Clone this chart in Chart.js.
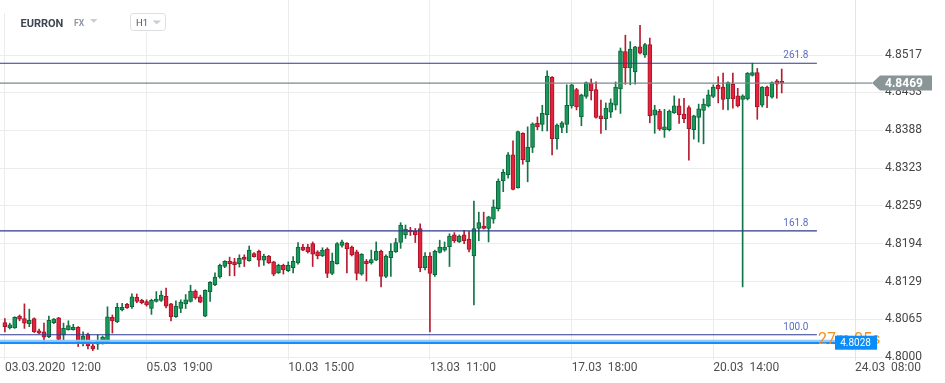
<!DOCTYPE html>
<html><head><meta charset="utf-8">
<script src="https://cdn.jsdelivr.net/npm/chart.js@4.4.1/dist/chart.umd.min.js"></script>
<style>html,body{margin:0;padding:0;background:#fff;overflow:hidden}#wrap{width:945px;height:383px;position:relative}</style>
</head><body><div id="wrap"><canvas id="c" width="945" height="383"></canvas></div>
<script>
const opens=[4.8059,4.8050,4.8050,4.8070,4.8066,4.8057,4.8066,4.8045,4.8043,4.8035,4.8059,4.8067,4.8038,4.8047,4.8047,4.8051,4.8025,4.8039,4.8019,4.8022,4.8024,4.8025,4.8068,4.8060,4.8081,4.8090,4.8086,4.8102,4.8097,4.8095,4.8083,4.8095,4.8097,4.8104,4.8091,4.8069,4.8083,4.8091,4.8095,4.8113,4.8103,4.8070,4.8112,4.8124,4.8137,4.8155,4.8164,4.8163,4.8160,4.8171,4.8165,4.8177,4.8181,4.8166,4.8173,4.8163,4.8144,4.8157,4.8148,4.8153,4.8161,4.8188,4.8188,4.8194,4.8180,4.8173,4.8185,4.8143,4.8160,4.8191,4.8195,4.8188,4.8180,4.8142,4.8164,4.8161,4.8166,4.8181,4.8138,4.8170,4.8180,4.8196,4.8209,4.8217,4.8215,4.8220,4.8153,4.8173,4.8141,4.8179,4.8183,4.8189,4.8209,4.8197,4.8209,4.8202,4.8173,4.8220,4.8224,4.8220,4.8236,4.8254,4.8302,4.8312,4.8346,4.8290,4.8383,4.8334,4.8359,4.8400,4.8398,4.8415,4.8479,4.8374,4.8393,4.8398,4.8430,4.8458,4.8411,4.8446,4.8469,4.8458,4.8413,4.8408,4.8419,4.8431,4.8459,4.8523,4.8495,4.8488,4.8531,4.8517,4.8535,4.8414,4.8421,4.8389,4.8389,4.8418,4.8430,4.8416,4.8427,4.8389,4.8410,4.8422,4.8430,4.8446,4.8465,4.8462,4.8442,4.8467,4.8447,4.8441,4.8442,4.8482,4.8487,4.8431,4.8462,4.8445,4.8473,4.8472];
const highs=[4.8066,4.8058,4.8069,4.8072,4.8091,4.8082,4.8067,4.8048,4.8058,4.8070,4.8066,4.8068,4.8058,4.8062,4.8056,4.8052,4.8043,4.8041,4.8025,4.8038,4.8036,4.8086,4.8072,4.8092,4.8092,4.8092,4.8108,4.8108,4.8099,4.8098,4.8099,4.8112,4.8113,4.8118,4.8092,4.8096,4.8098,4.8107,4.8123,4.8115,4.8106,4.8115,4.8129,4.8144,4.8159,4.8165,4.8171,4.8169,4.8175,4.8175,4.8190,4.8179,4.8183,4.8176,4.8174,4.8164,4.8159,4.8159,4.8163,4.8172,4.8196,4.8193,4.8193,4.8197,4.8182,4.8187,4.8187,4.8178,4.8196,4.8200,4.8196,4.8190,4.8183,4.8177,4.8167,4.8183,4.8197,4.8183,4.8175,4.8194,4.8203,4.8230,4.8226,4.8222,4.8220,4.8228,4.8179,4.8179,4.8183,4.8200,4.8197,4.8211,4.8213,4.8209,4.8217,4.8215,4.8267,4.8248,4.8248,4.8241,4.8269,4.8305,4.8321,4.8350,4.8370,4.8387,4.8384,4.8394,4.8401,4.8411,4.8431,4.8490,4.8480,4.8399,4.8403,4.8466,4.8467,4.8460,4.8450,4.8471,4.8476,4.8471,4.8440,4.8435,4.8442,4.8471,4.8529,4.8551,4.8540,4.8532,4.8568,4.8537,4.8546,4.8431,4.8424,4.8424,4.8423,4.8447,4.8442,4.8443,4.8430,4.8414,4.8433,4.8442,4.8457,4.8466,4.8480,4.8486,4.8471,4.8486,4.8460,4.8449,4.8487,4.8503,4.8494,4.8463,4.8464,4.8471,4.8475,4.8493];
const lows=[4.8043,4.8048,4.8049,4.8062,4.8049,4.8052,4.8042,4.8040,4.8026,4.8033,4.8057,4.8029,4.8029,4.8046,4.8046,4.8018,4.8019,4.8014,4.8011,4.8013,4.8022,4.8024,4.8041,4.8059,4.8079,4.8083,4.8083,4.8093,4.8091,4.8087,4.8073,4.8094,4.8095,4.8084,4.8062,4.8068,4.8076,4.8083,4.8094,4.8099,4.8093,4.8069,4.8095,4.8122,4.8135,4.8153,4.8139,4.8139,4.8154,4.8155,4.8164,4.8171,4.8155,4.8157,4.8160,4.8139,4.8143,4.8142,4.8146,4.8144,4.8159,4.8182,4.8178,4.8155,4.8168,4.8172,4.8136,4.8141,4.8159,4.8188,4.8144,4.8173,4.8132,4.8140,4.8130,4.8159,4.8165,4.8120,4.8136,4.8138,4.8179,4.8186,4.8203,4.8208,4.8196,4.8146,4.8149,4.8043,4.8138,4.8178,4.8181,4.8155,4.8196,4.8196,4.8194,4.8180,4.8089,4.8199,4.8219,4.8197,4.8229,4.8250,4.8283,4.8306,4.8286,4.8289,4.8330,4.8300,4.8350,4.8389,4.8387,4.8387,4.8346,4.8356,4.8384,4.8384,4.8426,4.8423,4.8396,4.8443,4.8440,4.8409,4.8383,4.8389,4.8410,4.8423,4.8417,4.8467,4.8466,4.8467,4.8519,4.8513,4.8401,4.8383,4.8388,4.8376,4.8387,4.8417,4.8400,4.8401,4.8337,4.8373,4.8368,4.8365,4.8428,4.8444,4.8435,4.8424,4.8423,4.8426,4.8428,4.8120,4.8440,4.8481,4.8407,4.8428,4.8427,4.8443,4.8443,4.8452];
const closes=[4.8052,4.8055,4.8068,4.8065,4.8058,4.8063,4.8043,4.8041,4.8034,4.8063,4.8065,4.8030,4.8049,4.8054,4.8051,4.8026,4.8036,4.8019,4.8014,4.8027,4.8034,4.8069,4.8062,4.8085,4.8085,4.8084,4.8103,4.8095,4.8093,4.8089,4.8097,4.8099,4.8106,4.8087,4.8069,4.8087,4.8094,4.8098,4.8113,4.8101,4.8094,4.8114,4.8128,4.8137,4.8157,4.8164,4.8160,4.8158,4.8169,4.8167,4.8183,4.8172,4.8166,4.8173,4.8161,4.8142,4.8157,4.8149,4.8157,4.8164,4.8188,4.8183,4.8180,4.8176,4.8173,4.8183,4.8143,4.8164,4.8194,4.8197,4.8185,4.8175,4.8143,4.8176,4.8160,4.8167,4.8181,4.8138,4.8173,4.8181,4.8196,4.8226,4.8219,4.8214,4.8209,4.8153,4.8173,4.8143,4.8181,4.8188,4.8188,4.8207,4.8199,4.8207,4.8199,4.8184,4.8220,4.8230,4.8220,4.8240,4.8257,4.8301,4.8316,4.8346,4.8287,4.8386,4.8338,4.8359,4.8399,4.8394,4.8417,4.8481,4.8374,4.8397,4.8401,4.8431,4.8466,4.8428,4.8449,4.8470,4.8456,4.8410,4.8408,4.8426,4.8435,4.8462,4.8524,4.8495,4.8527,4.8531,4.8520,4.8535,4.8413,4.8423,4.8390,4.8394,4.8421,4.8430,4.8415,4.8408,4.8391,4.8413,4.8425,4.8433,4.8449,4.8462,4.8459,4.8441,4.8470,4.8442,4.8430,4.8447,4.8486,4.8487,4.8428,4.8462,4.8447,4.8470,4.8467,4.8469];

const xTickIdx=[0,29,58,87,116,145,174];
const xTickLabels=['03.03.2020  12:00','05.03  19:00','10.03  15:00','13.03  11:00','17.03  18:00','20.03  14:00','24.03  08:00'];
const yTickLabels=['4.8000','4.8065','4.8129','4.8194','4.8259','4.8323','4.8388','4.8453','4.8517'];
const fibNames=['261.8','161.8','100.0'];
const fibPrices=[4.8503,4.8216,4.8038];
const lastPrice=4.8469;
const bidLine=4.80245;
const askLine=4.8028;
const bidLabel='4.8028';
const timerText='27m 05s';

const X_MIN=-1, X_MAX=174, FIB_END=166.2;
const UP='#16995a', UP_EDGE='#0d6639', DN='#e2233b', DN_EDGE='#a5152a';

const isUp=opens.map((o,i)=>closes[i]>=o);
const wickData=opens.map((o,i)=>({x:i,y:[lows[i],highs[i]]}));
const bodyData=opens.map((o,i)=>({x:i,y:[Math.min(o,closes[i]),Math.max(o,closes[i])]}));
const hline=(p,x1)=>[{x:X_MIN,y:p},{x:x1,y:p}];

Chart.defaults.font.family='Roboto';

const overlay={
  id:'overlay',
  afterDraw(chart){
    const {ctx,chartArea:ca,scales:{x,y}}=chart;
    ctx.save();
    // header
    ctx.fillStyle='#fff';
    ctx.fillRect(0,0,185,13);
    ctx.fillRect(10,0,175,32);
    ctx.textBaseline='alphabetic';ctx.textAlign='left';
    ctx.fillStyle='#3d4752';ctx.font='bold 11px Roboto';ctx.fillText('EURRON',20.5,26.5);
    ctx.fillStyle='#8c97a1';ctx.font='bold 8.5px Roboto';ctx.fillText('FX',74,25.7);
    ctx.fillStyle='#c8cdd2';
    ctx.beginPath();ctx.moveTo(90,19);ctx.lineTo(97.5,19);ctx.lineTo(93.75,22.7);ctx.closePath();ctx.fill();
    ctx.strokeStyle='#dcdfe2';ctx.lineWidth=1;
    ctx.beginPath();ctx.roundRect(130.5,13.5,35,17,3);ctx.stroke();
    ctx.fillStyle='#555';ctx.font='9.5px Roboto';ctx.fillText('H1',136,25.7);
    ctx.fillStyle='#c8cdd2';
    ctx.beginPath();ctx.moveTo(152.5,20.5);ctx.lineTo(161,20.5);ctx.lineTo(156.75,24.2);ctx.closePath();ctx.fill();
    // fib labels
    ctx.font='10px Roboto';ctx.fillStyle='#5c6bc0';ctx.textAlign='right';
    const fx=x.getPixelForValue(FIB_END);
    fibPrices.forEach((p,i)=>ctx.fillText(fibNames[i],fx-8.5,y.getPixelForValue(p)-5));
    // last price label
    const py=y.getPixelForValue(lastPrice);
    ctx.strokeStyle='#7f898d';ctx.lineWidth=1.2;
    ctx.beginPath();ctx.moveTo(ca.right,py);ctx.lineTo(ca.right+17,py);ctx.stroke();
    ctx.fillStyle='#8a9598';
    ctx.beginPath();ctx.moveTo(ca.right+17,py);ctx.lineTo(ca.right+25,py-7.5);ctx.lineTo(ca.right+77,py-7.5);
    ctx.lineTo(ca.right+77,py+7.5);ctx.lineTo(ca.right+25,py+7.5);ctx.closePath();ctx.fill();
    ctx.fillStyle='#fff';ctx.font='bold 12px Roboto';ctx.textAlign='left';ctx.textBaseline='middle';
    ctx.fillText(lastPrice.toFixed(4),ca.right+30,py+0.5);
    // timer + bid label
    const by=y.getPixelForValue(bidLine);
    ctx.textBaseline='alphabetic';ctx.font='16px Roboto';ctx.fillStyle='#f5901a';
    ctx.fillText(timerText,ca.right-37,by+1.5);
    ctx.fillStyle='#0b8cf8';
    ctx.fillRect(ca.right-20,by-7,42,14);
    ctx.fillStyle='#fff';ctx.font='10px Roboto';ctx.textAlign='center';ctx.textBaseline='middle';
    ctx.fillText(bidLabel,ca.right+0.5,by+0.5);
    ctx.restore();
  }
};

new Chart(document.getElementById('c'),{
  type:'bar',
  data:{datasets:[
    {type:'line',data:hline(askLine,X_MAX),borderColor:'#90c8fb',borderWidth:2,pointRadius:0,order:0},
    {type:'line',data:hline(bidLine,X_MAX),borderColor:'#1a8cf7',borderWidth:2.5,pointRadius:0,order:0},
    {type:'line',data:hline(lastPrice,X_MAX),borderColor:'#7f898d',borderWidth:1.2,pointRadius:0,order:1},
    ...fibPrices.map(p=>({type:'line',data:hline(p,FIB_END),borderColor:'#2c3a8c',borderWidth:1.1,pointRadius:0,order:1})),
    {type:'bar',data:bodyData,backgroundColor:isUp.map(u=>u?UP:DN),borderColor:isUp.map(u=>u?UP_EDGE:DN_EDGE),
      borderWidth:1,borderSkipped:false,barThickness:4,grouped:false,order:2},
    {type:'bar',data:wickData,backgroundColor:isUp.map(u=>u?'#137446':'#b51d30'),borderWidth:0,
      barThickness:1,grouped:false,order:3}
  ]},
  options:{
    responsive:false,animation:false,devicePixelRatio:1,events:[],
    layout:{padding:0},
    plugins:{legend:{display:false},tooltip:{enabled:false}},
    scales:{
      x:{type:'linear',min:X_MIN,max:X_MAX,offset:false,
        grid:{offset:false,color:'#ececec',drawTicks:false},
        border:{display:false},
        afterBuildTicks:s=>{s.ticks=xTickIdx.map(v=>({value:v}));},
        afterFit:s=>{s.height=23;s.paddingLeft=0;s.paddingRight=0;},
        ticks:{autoSkip:false,maxRotation:0,align:'start',padding:1,color:'#4f4f4f',font:{size:12},
          callback:(v,i)=>xTickLabels[i]}
      },
      y:{type:'linear',position:'right',min:4.79949,max:4.86112,
        grid:{color:'#ececec',tickLength:28},
        border:{display:true,color:'#e4e4e4'},
        afterBuildTicks:s=>{s.ticks=yTickLabels.map(t=>({value:parseFloat(t)}));},
        afterFit:s=>{s.width=90;s.paddingTop=0;s.paddingBottom=0;},
        ticks:{autoSkip:false,padding:2,color:'#454545',font:{size:12},callback:(v,i)=>yTickLabels[i]}
      }
    }
  },
  plugins:[overlay]
});
</script></body></html>
